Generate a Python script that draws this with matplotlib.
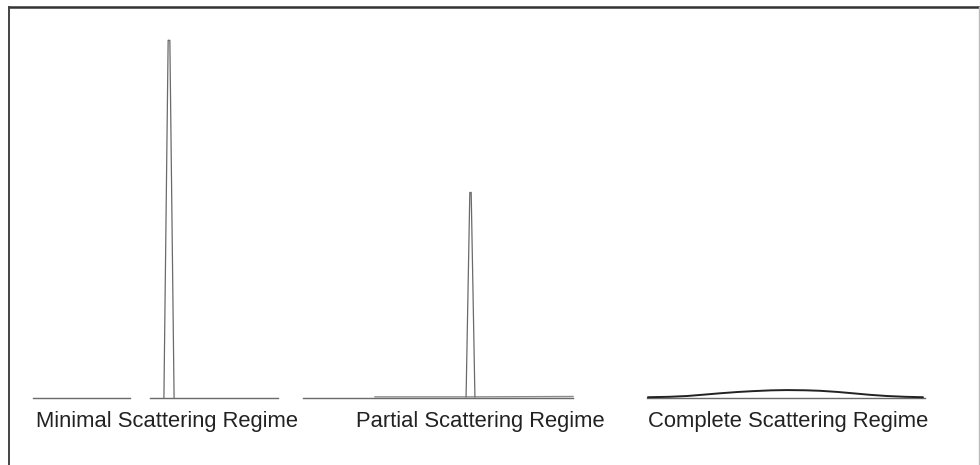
import matplotlib
matplotlib.use("Agg")
import matplotlib.pyplot as plt
from matplotlib.lines import Line2D

plt.rcParams['font.family'] = ['Liberation Sans', 'DejaVu Sans']

# ---- data (relative intensity vs. relative position, panel units) ----
labels = ["Minimal Scattering Regime", "Partial Scattering Regime", "Complete Scattering Regime"]

# Panel 1: single sharp peak
p1_peak_x = [-0.030, -0.005, 0.005, 0.030]
p1_peak_y = [0.0, 1.0, 1.0, 0.0]
p1_base_x = [-0.80, -0.229, None, -0.112, 0.641]
p1_base_y = [0.0, 0.0, None, 0.0, 0.0]

# Panel 2: weaker sharp peak on faint pedestal
p2_peak_x = [-0.026, -0.004, 0.004, 0.026]
p2_peak_y = [0.004, 0.575, 0.575, 0.004]
p2_base_x = [-0.985, 0.603]
p2_base_y = [0.0, 0.0]
p2_ped_x = [-0.562, -0.026, 0.026, 0.603]
p2_ped_y = [0.004, 0.004, 0.004, 0.005]

# Panel 3: broad low hump
p3_hump_x = [-0.824, -0.70, -0.594, -0.50, -0.40, -0.30, -0.206, -0.10, -0.006,
             0.10, 0.188, 0.29, 0.382, 0.48, 0.582, 0.69, 0.794]
p3_hump_y = [0.003, 0.0042, 0.0064, 0.010, 0.014, 0.0175, 0.020, 0.0222, 0.023,
             0.0224, 0.021, 0.0178, 0.014, 0.0098, 0.0064, 0.0042, 0.003]
p3_base_x = [-0.829, 0.806]
p3_base_y = [0.0, 0.0]

label_x = [-0.009, 0.056, 0.003]

W, H = 980, 465
fig = plt.figure(figsize=(9.8, 4.65), dpi=100)
fig.patch.set_facecolor("white")

centers = [169, 470.5, 788]
half = 170
base_px = 398.3
unit_px = 358

axes = []
for c in centers:
    ax = fig.add_axes([(c - half) / W, (H - base_px) / H, 2 * half / W, unit_px / H])
    ax.set_xlim(-1, 1)
    ax.set_ylim(0, 1)
    ax.axis("off")
    ax.patch.set_alpha(0)
    axes.append(ax)

def nz(v):
    return [float('nan') if a is None else a for a in v]

gray = "#6a6a6a"
a1, a2, a3 = axes
a1.plot(nz(p1_base_x), nz(p1_base_y), color=gray, lw=1.0, clip_on=False)
a1.plot(p1_peak_x, p1_peak_y, color=gray, lw=0.9, clip_on=False)

a2.plot(p2_base_x, p2_base_y, color=gray, lw=1.0, clip_on=False)
a2.plot(p2_ped_x, p2_ped_y, color="#8a8a8a", lw=1.0, clip_on=False)
a2.plot(p2_peak_x, p2_peak_y, color=gray, lw=0.9, clip_on=False)

a3.plot(p3_base_x, p3_base_y, color=gray, lw=1.0, clip_on=False)
a3.plot(p3_hump_x, p3_hump_y, color="#222222", lw=1.4, clip_on=False, solid_capstyle="round")

text_y = -(427.3 - base_px) / unit_px
for ax, lab, lx in zip(axes, labels, label_x):
    ax.text(lx, text_y, lab, ha="center", va="baseline", fontsize=15.8,
            color="#222222", clip_on=False)

# frame lines of the scanned figure
fig.add_artist(Line2D([9 / W, 1.0], [1 - 7 / H, 1 - 7 / H], color="#333333", lw=1.8,
                      transform=fig.transFigure))
fig.add_artist(Line2D([9 / W, 9 / W], [0, 1 - 7 / H], color="#444444", lw=1.4,
                      transform=fig.transFigure))
fig.add_artist(Line2D([979 / W, 979 / W], [0, 1 - 7 / H], color="#bbbbbb", lw=1.0,
                      transform=fig.transFigure))

fig.savefig("out.png", dpi=100, facecolor="white")
